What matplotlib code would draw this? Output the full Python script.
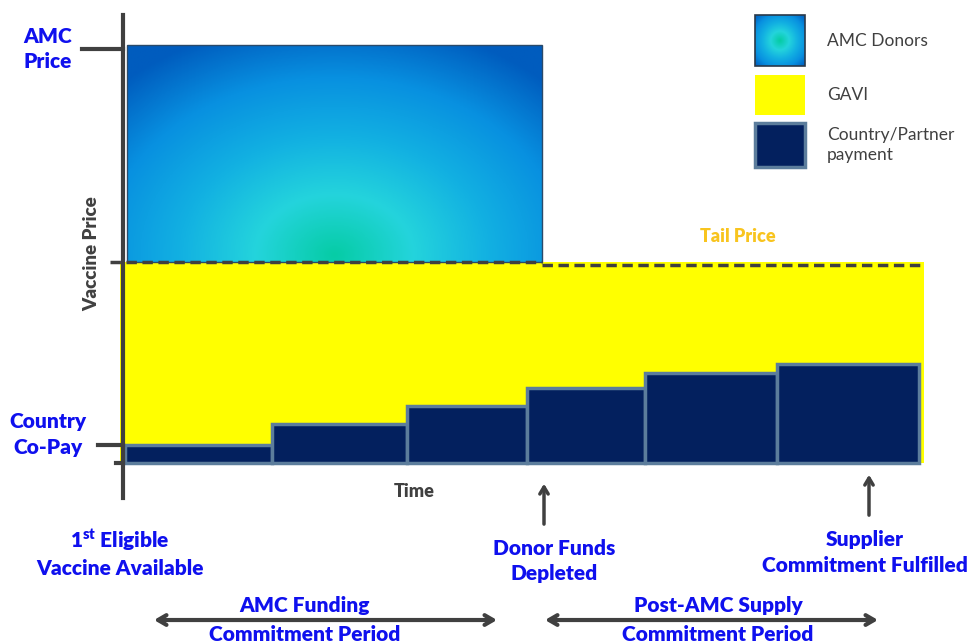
import numpy as np
import matplotlib
matplotlib.use("Agg")
import matplotlib.pyplot as plt
from matplotlib.colors import LinearSegmentedColormap
from matplotlib.patches import Rectangle

plt.rcParams['font.family'] = ['Lato', 'DejaVu Sans']
plt.rcParams['mathtext.fontset'] = 'custom'
plt.rcParams['mathtext.rm'] = 'Lato:heavy'

# price levels (schematic, $ per dose)
amc_price = 7.0
tail_price = [3.37, 3.32]          # before / after donor funds run out
# country co-pay steps over time
step_edges = [0, 1.47, 2.82, 4.02, 5.20, 6.52, 7.94]
copay = [0.30, 0.65, 0.95, 1.26, 1.51, 1.66]
funds_depleted = 4.17
supplier_done = 7.44
time_end = 7.99

legend_labels = ["AMC Donors", "GAVI", "Country/Partner\npayment"]

blue = "#0f10ee"
gray = "#404040"
navy = "#03205e"
edge = "#5c7d9c"
gold = "#f8c41e"

grad = LinearSegmentedColormap.from_list(
    "amc", ["#06cca6", "#24d4dc", "#12b0e2", "#0890e0", "#005cbe"])


def radial(nx, ny, cx, cy, sx, sy):
    xx, yy = np.meshgrid(np.linspace(0, 1, nx), np.linspace(0, 1, ny))
    r = np.sqrt(((xx - cx) / sx) ** 2 + ((yy - cy) / sy) ** 2)
    return np.clip(r, 0, 1)


fig = plt.figure(figsize=(9.75, 6.43), dpi=100)
ax = fig.add_axes([0, 0, 1, 1])
ax.set_xlim(-1.25, 8.5)
ax.set_ylim(-3.015, 7.755)
ax.axis('off')

# GAVI area up to the tail price
ax.add_patch(Rectangle((-0.05, 0), time_end + 0.05, tail_price[0],
                       facecolor="#ffff00", edgecolor="none", zorder=1))

# AMC donors area with a radial gradient
img = radial(300, 200, 0.5, 0.03, 0.75, 1.1)
ax.imshow(img, cmap=grad, extent=[0.02, funds_depleted, tail_price[0], amc_price],
          origin='lower', aspect='auto', zorder=2, interpolation='bilinear')
ax.add_patch(Rectangle((0.02, tail_price[0]), funds_depleted - 0.02,
                       amc_price - tail_price[0], facecolor="none",
                       edgecolor="#2a4a6a", lw=1, zorder=3))

# tail price dashed line
ax.plot([-0.15, funds_depleted], [tail_price[0]] * 2, ls=(0, (3, 1.6)),
        color=gray, lw=2.5, zorder=4)
ax.plot([funds_depleted, time_end], [tail_price[1]] * 2, ls=(0, (3, 1.6)),
        color=gray, lw=2.5, zorder=4)

# country co-pay steps
ax.bar(step_edges[:-1], copay, width=np.diff(step_edges), align='edge',
       color=navy, edgecolor=edge, linewidth=2.5, zorder=5)

# vertical axis and ticks
ax.plot([-0.02, -0.02], [-0.59, 7.5], color=gray, lw=3, zorder=6)
ax.plot([-0.43, -0.02], [6.93, 6.93], color=gray, lw=3, zorder=6)
ax.plot([-0.27, -0.02], [copay[0], copay[0]], color=gray, lw=3, zorder=6)
ax.plot([-0.09, -0.02], [0, 0], color=gray, lw=3, zorder=6)

tb = dict(fontweight='heavy', fontsize=15, color=blue, ha='center', va='center',
          linespacing=1.4)
ax.text(-0.77, 6.93, "AMC\nPrice", **tb)
ax.text(-0.77, 0.48, "Country\nCo-Pay", **tb)
ax.text(-0.05, -1.5, "$\\mathrm{1^{st}}$ Eligible\nVaccine Available", **tb)
ax.text(funds_depleted + 0.12, -1.64, "Donor Funds\nDepleted", **tb)
ax.text(supplier_done - 0.04, -1.5, "Supplier\nCommitment Fulfilled", **tb)
ax.text(1.80, -2.39, "AMC Funding", **tb)
ax.text(1.80, -2.88, "Commitment Period", **tb)
ax.text(5.93, -2.39, "Post-AMC Supply", **tb)
ax.text(5.93, -2.88, "Commitment Period", **tb)

ax.text(2.89, -0.48, "Time", fontsize=13, fontweight='heavy', color=gray,
        ha='center', va='center')
ax.text(-0.33, 3.5, "Vaccine Price", fontsize=13.5, fontweight='heavy', color=gray,
        ha='center', va='center', rotation=90)
ax.text(6.13, 3.79, "Tail Price", fontsize=13, fontweight='heavy', color=gold,
        ha='center', va='center')

# event arrows
arr = dict(arrowstyle='->,head_length=0.5,head_width=0.3', color=gray, lw=2.5)
ax.annotate("", xy=(funds_depleted + 0.02, -0.3), xytext=(funds_depleted + 0.02, -1.07),
            arrowprops=arr)
ax.annotate("", xy=(supplier_done, -0.15), xytext=(supplier_done, -0.92),
            arrowprops=arr)

# period arrows
darr = dict(arrowstyle='<->,head_length=0.6,head_width=0.35', color=gray, lw=3,
            shrinkA=0, shrinkB=0)
ax.annotate("", xy=(0.29, -2.63), xytext=(3.72, -2.63), arrowprops=darr)
ax.annotate("", xy=(4.20, -2.63), xytext=(7.53, -2.63), arrowprops=darr)

# legend
sw = [(7.50, 6.65), (6.50, 5.83), (5.70, 4.96)]
lx0, lx1 = 6.30, 6.80
ax.imshow(radial(60, 60, 0.5, 0.5, 0.75, 0.75), cmap=grad,
          extent=[lx0, lx1, sw[0][1], sw[0][0]], origin='lower', aspect='auto',
          zorder=2)
ax.add_patch(Rectangle((lx0, sw[0][1]), lx1 - lx0, sw[0][0] - sw[0][1],
                       facecolor="none", edgecolor="#2a3a4a", lw=1.2, zorder=3))
ax.add_patch(Rectangle((lx0, sw[1][1]), lx1 - lx0, sw[1][0] - sw[1][1],
                       facecolor="#ffff00", edgecolor="none", zorder=3))
ax.add_patch(Rectangle((lx0, sw[2][1]), lx1 - lx0, sw[2][0] - sw[2][1],
                       facecolor=navy, edgecolor=edge, lw=2.5, zorder=3))
for (top, bot), lab in zip(sw, legend_labels):
    ax.text(7.02, (top + bot) / 2, lab, fontsize=12.5, color=gray,
            ha='left', va='center', linespacing=1.3)

fig.savefig("out.png", dpi=100)
